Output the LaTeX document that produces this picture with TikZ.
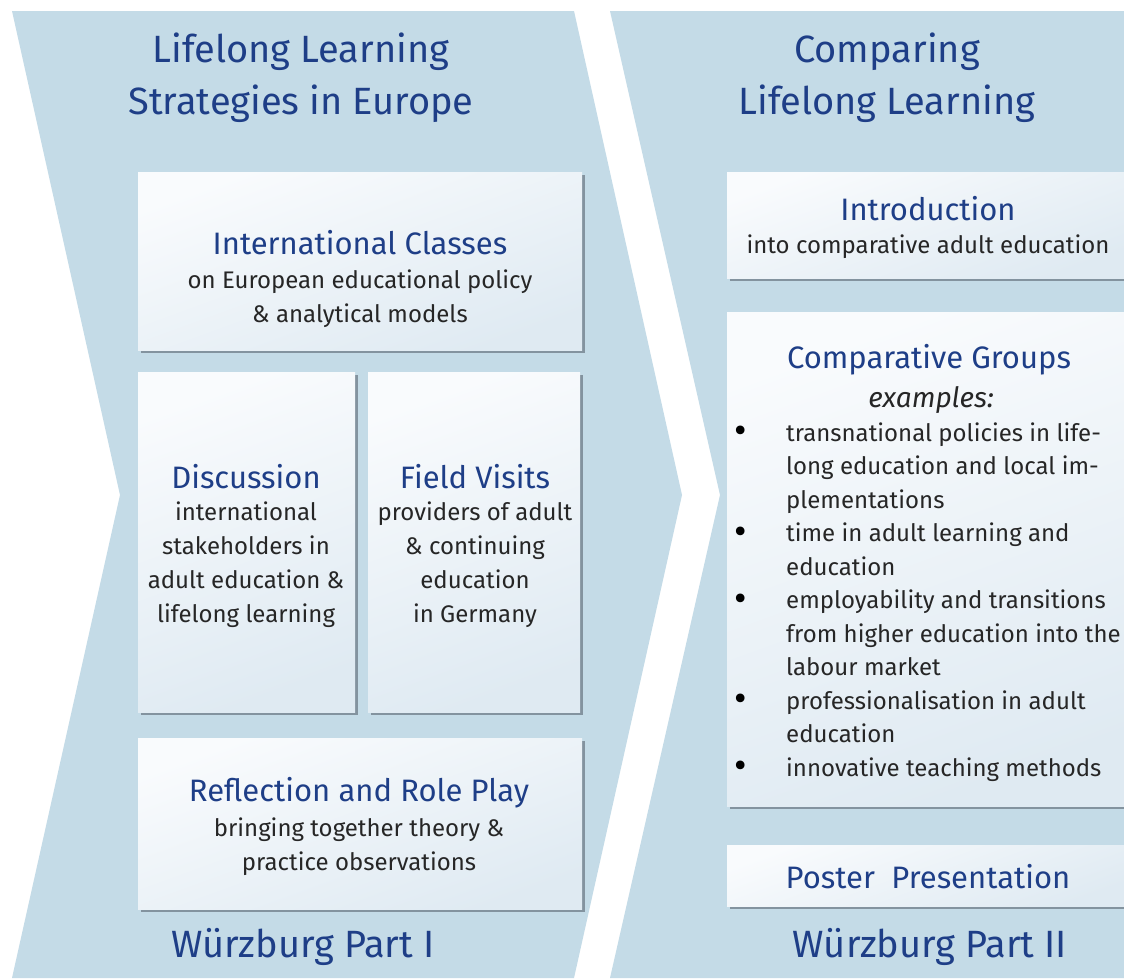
\documentclass[tikz,border=0pt]{standalone}
\usepackage{fontspec}
\setmainfont{Fira Sans}
\usetikzlibrary{shadows}
\definecolor{chev}{RGB}{196,219,231}
\definecolor{headblue}{RGB}{30,62,135}
\definecolor{bodytxt}{RGB}{38,38,38}
\definecolor{boxtop}{RGB}{249,251,253}
\definecolor{boxbot}{RGB}{223,234,242}
\definecolor{shadowcol}{RGB}{125,140,152}
\newcommand{\lbul}{\makebox[51pt][l]{\hspace*{-1pt}\color{black}\raisebox{-2.5pt}{\scalebox{1.6}{\textbullet}}}}
\newcommand{\lind}{\hspace*{51pt}}
\tikzset{
  chevron/.style={fill=chev, draw=none},
  panel/.style={anchor=north west, inner sep=0pt, top color=boxtop, bottom color=boxbot, shading angle=20,
    drop shadow={shadow xshift=2.5pt, shadow yshift=-2.5pt, fill=shadowcol, opacity=0.9}},
  bigtitle/.style={font=\fontsize{38}{52}\selectfont, text=headblue, align=center, inner sep=0pt},
  head/.style={font=\fontsize{31}{36}\selectfont, text=headblue, inner sep=0pt},
  body/.style={font=\fontsize{24}{34}\selectfont, text=bodytxt, align=center, inner sep=0pt},
  listtext/.style={font=\fontsize{24}{33.5}\selectfont, text=bodytxt, align=left, anchor=west, inner sep=0pt},
}
\begin{document}
\begin{tikzpicture}[x=1pt,y=-1pt]
\useasboundingbox[fill=white] (0,0) rectangle (1124,978);
% chevrons
\fill[chevron] (12,11) -- (574,11) -- (682,495) -- (574,978) -- (12,978) -- (120,495) -- cycle;
\fill[chevron] (610,11) -- (1124,11) -- (1124,978) -- (610,978) -- (720,495) -- cycle;
% titles
\node[bigtitle] (t1) at (301,78) {Lifelong Learning\\Strategies in Europe};
\node[bigtitle] (t2) at (887,78) {Comparing\\Lifelong Learning};
\node[bigtitle] (w1) at (303,947) {Würzburg Part I};
\node[bigtitle] (w2) at (930,947) {Würzburg Part II};
% panels
\node[panel, minimum width=444pt, minimum height=178pt] (ic) at (138,172) {};
\node[panel, minimum width=217pt, minimum height=340pt] (disc) at (138,372) {};
\node[panel, minimum width=212pt, minimum height=340pt] (fv) at (368,372) {};
\node[panel, minimum width=444pt, minimum height=171pt] (rr) at (138,738) {};
\node[panel, minimum width=397pt, minimum height=106pt] (intro) at (727,172) {};
\node[panel, minimum width=397pt, minimum height=494pt] (cg) at (727,312) {};
\node[panel, minimum width=397pt, minimum height=61pt] (pp) at (727,845) {};
% texts
\node[head] (ich) at (360,243) {International Classes};
\node[body] (icb) at (360,299) {on European educational policy\\\& analytical models};
\node[head] (disch) at (246,477) {Discussion};
\node[body] (discb) at (246,565) {international\\stakeholders in\\adult education \&\\lifelong learning};
\node[head] (fvh) at (475,477) {Field Visits};
\node[body] (fvb) at (475,565) {providers of adult\\\& continuing\\education\\in Germany};
\node[head] (rrh) at (359,793) {Reflection and Role Play};
\node[body] (rrb) at (359,847) {bringing together theory \&\\practice observations};
\node[head] (introh) at (928,209) {Introduction};
\node[body] (introb) at (928,247) {into comparative adult education};
\node[head] (cgh) at (929,360) {Comparative Groups};
\node[body, font=\fontsize{28}{32}\selectfont\itshape] (cge) at (931,400) {examples:};
\node[listtext] (cgl) at (735,602) {\lbul transnational policies in life-\\
\lind long education and local im-\\
\lind plementations\\
\lbul time in adult learning and\\
\lind education\\
\lbul employability and transitions\\
\lind from higher education into the\\
\lind labour market\\
\lbul professionalisation in adult\\
\lind education\\
\lbul innovative teaching methods};
\node[head] (pph) at (928,877) {Poster\ \ Presentation};
\end{tikzpicture}
\end{document}
